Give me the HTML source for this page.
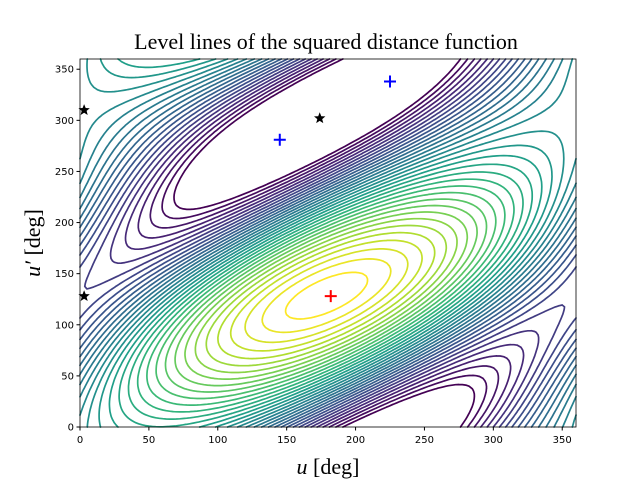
<!DOCTYPE html>
<html><head><meta charset="utf-8"><style>
body{margin:0;background:#fff}
svg{display:block}
text{font-family:"Liberation Serif",serif;fill:#000}
.tk{font-family:"DejaVu Sans","Liberation Sans",sans-serif;font-size:10px}
</style></head><body>
<svg id="chart" width="640" height="480">
<rect width="640" height="480" fill="#fff"/>
<text x="326" y="49" text-anchor="middle" font-size="22">Level lines of the squared distance function</text>
<g id="plot"></g>
<g id="axes"></g>
<text x="328" y="474" text-anchor="middle" font-size="22"><tspan font-style="italic">u</tspan> [deg]</text>
<text transform="translate(40,243) rotate(-90)" text-anchor="middle" font-size="22"><tspan font-style="italic">u′</tspan> [deg]</text>
</svg>
<script>
// model terms: amplitude, coefficient of u, coefficient of u', phase (deg)
const termAmp=[1.0,-0.1,0.1,0.6];
const termCu=[1,2,1,0];
const termCv=[-1,-2,0,1];
const termPhase=[50,100,182,128];
const levelCount=[35];
const levelStartFrac=[0.16];
const xTicks=[0,50,100,150,200,250,300,350];
const yTicks=[0,50,100,150,200,250,300,350];
const maxPts=[[182,128]];
const saddlePts=[[145,281],[225,338]];
const minPts=[[3,128],[3,310],[174,302]];

const X0=80,X1=576,Y0=427,Y1=59;
const sx=u=>X0+(u/360)*(X1-X0), sy=v=>Y0-(v/360)*(Y0-Y1);
const NS='http://www.w3.org/2000/svg';
const plot=document.getElementById('plot'), axes=document.getElementById('axes');
function f(u,v){let s=0;for(let i=0;i<termAmp.length;i++){s+=termAmp[i]*Math.cos((termCu[i]*u+termCv[i]*v-termPhase[i])*Math.PI/180);}return s;}
const N=144,step=360/N,G=[];
let mn=1e9,mx=-1e9;
for(let j=0;j<=N;j++){G.push([]);for(let i=0;i<=N;i++){const z=f(i*step,j*step);G[j].push(z);mn=Math.min(mn,z);mx=Math.max(mx,z);}}
const vir=[[68,1,84],[72,40,120],[62,74,137],[49,104,142],[38,130,142],[31,158,137],[53,183,121],[109,205,89],[180,222,44],[253,231,37]];
function cmap(t){t=Math.max(0,Math.min(1,t))*(vir.length-1);const k=Math.min(Math.floor(t),vir.length-2),a=t-k;const c=vir[k].map((x,i)=>Math.round(x+(vir[k+1][i]-x)*a));return `rgb(${c})`;}
const L=levelCount[0];
const lo=mn+(mx-mn)*levelStartFrac[0];
for(let l=0;l<L;l++){
  const lev=lo+(mx-lo)*(l+0.3)/L;
  let d='';
  for(let j=0;j<N;j++)for(let i=0;i<N;i++){
    const z=[G[j][i],G[j][i+1],G[j+1][i+1],G[j+1][i]];
    const p=[[i,j],[i+1,j],[i+1,j+1],[i,j+1]];
    const pts=[];
    for(let e=0;e<4;e++){const a=z[e],b=z[(e+1)%4];if((a<lev)!==(b<lev)){const t=(lev-a)/(b-a);const pa=p[e],pb=p[(e+1)%4];pts.push([(pa[0]+(pb[0]-pa[0])*t)*step,(pa[1]+(pb[1]-pa[1])*t)*step]);}}
    for(let k=0;k+1<pts.length;k+=2)d+=`M${sx(pts[k][0]).toFixed(1)},${sy(pts[k][1]).toFixed(1)}L${sx(pts[k+1][0]).toFixed(1)},${sy(pts[k+1][1]).toFixed(1)}`;
  }
  const path=document.createElementNS(NS,'path');
  path.setAttribute('d',d);path.setAttribute('stroke',cmap(l/(L-1)));path.setAttribute('stroke-width','1.7');path.setAttribute('fill','none');path.setAttribute('stroke-linecap','round');
  
  
  plot.appendChild(path);
}
function plus(pt,col,name){const g=document.createElementNS(NS,'path');const x=sx(pt[0]),y=sy(pt[1]);g.setAttribute('d',`M${x-6},${y}H${x+6}M${x},${y-6}V${y+6}`);g.setAttribute('stroke',col);g.setAttribute('stroke-width','2');


plot.appendChild(g);}
maxPts.forEach(p=>plus(p,'#ff0000','maximum-marker'));
saddlePts.forEach(p=>plus(p,'#0000ff','saddle-marker'));
minPts.forEach(p=>{const x=sx(p[0]),y=sy(p[1]);let d='';for(let k=0;k<10;k++){const r=k%2?2.6:6,a=-Math.PI/2+k*Math.PI/5;d+=(k?'L':'M')+(x+r*Math.cos(a)).toFixed(1)+','+(y+r*Math.sin(a)).toFixed(1);}
const s=document.createElementNS(NS,'path');s.setAttribute('d',d+'Z');s.setAttribute('fill','#000');


plot.appendChild(s);});
const fr=document.createElementNS(NS,'rect');fr.setAttribute('x',X0);fr.setAttribute('y',Y1);fr.setAttribute('width',X1-X0);fr.setAttribute('height',Y0-Y1);fr.setAttribute('fill','none');fr.setAttribute('stroke','#000');fr.setAttribute('stroke-width','0.8');


axes.appendChild(fr);
xTicks.forEach(t=>{const x=sx(t);const ln=document.createElementNS(NS,'line');ln.setAttribute('x1',x);ln.setAttribute('x2',x);ln.setAttribute('y1',Y0);ln.setAttribute('y2',Y0+3.5);ln.setAttribute('stroke','#000');axes.appendChild(ln);
const tx=document.createElementNS(NS,'text');tx.setAttribute('x',x);tx.setAttribute('y',Y0+16);tx.setAttribute('text-anchor','middle');tx.setAttribute('class','tk');tx.textContent=t;


axes.appendChild(tx);});
yTicks.forEach(t=>{const y=sy(t);const ln=document.createElementNS(NS,'line');ln.setAttribute('x1',X0-3.5);ln.setAttribute('x2',X0);ln.setAttribute('y1',y);ln.setAttribute('y2',y);ln.setAttribute('stroke','#000');axes.appendChild(ln);
const tx=document.createElementNS(NS,'text');tx.setAttribute('x',X0-6);tx.setAttribute('y',y+3.5);tx.setAttribute('text-anchor','end');tx.setAttribute('class','tk');tx.textContent=t;


axes.appendChild(tx);});
</script>
</body></html>
